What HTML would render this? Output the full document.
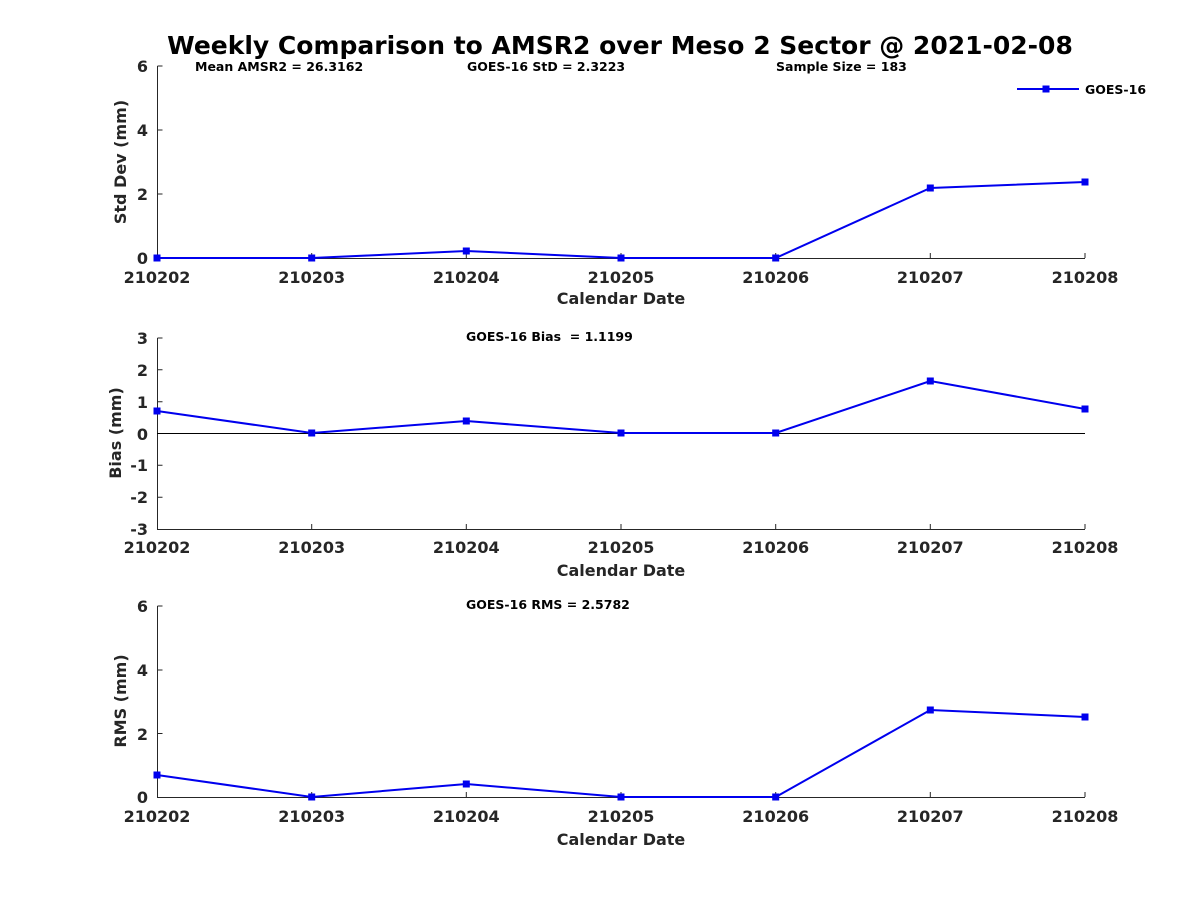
<!DOCTYPE html>
<html><head><meta charset="utf-8"><style>
html,body{margin:0;padding:0;background:#fff;}
svg{display:block;font-family:"DejaVu Sans","Liberation Sans",sans-serif;}
.t{font-size:16px;font-weight:bold;fill:#262626;}
.a{font-size:12.5px;font-weight:bold;fill:#000;}
.l{fill:none;stroke:#0000ee;stroke-width:2;}
.m{fill:#0000ee;}
.ax{stroke:#262626;stroke-width:1;fill:none;}
</style></head><body>
<svg width="1200" height="900" viewBox="0 0 1200 900" xmlns="http://www.w3.org/2000/svg">
<rect width="1200" height="900" fill="#fff"/>
<text x="620" y="54" text-anchor="middle" style="font-size:25px;font-weight:bold" fill="#000">Weekly Comparison to AMSR2 over Meso 2 Sector @ 2021-02-08</text>

<!-- Plot 1 -->
<g>
<path class="ax" d="M157.5 66V258.5H1085"/>
<path class="ax" d="M157.5 66h5M157.5 130h5M157.5 194h5M311.7 258v-5M466.3 258v-5M621 258v-5M775.7 258v-5M930.3 258v-5M1085 258v-5"/>
<g class="t" text-anchor="end"><text x="148" y="72">6</text><text x="148" y="136">4</text><text x="148" y="200">2</text><text x="148" y="264">0</text></g>
<g class="t" text-anchor="middle"><text x="157" y="283">210202</text><text x="311.7" y="283">210203</text><text x="466.3" y="283">210204</text><text x="621" y="283">210205</text><text x="775.7" y="283">210206</text><text x="930.3" y="283">210207</text><text x="1085" y="283">210208</text><text x="621" y="304">Calendar Date</text></g>
<text class="t" transform="translate(126,162) rotate(-90)" text-anchor="middle">Std Dev (mm)</text>
<polyline class="l" points="157,258 311.7,258 466.3,251 621,258 775.7,258 930.3,188 1085,182"/>
<g class="m"><rect x="153.5" y="254.5" width="7" height="7"/><rect x="308.2" y="254.5" width="7" height="7"/><rect x="462.8" y="247.5" width="7" height="7"/><rect x="617.5" y="254.5" width="7" height="7"/><rect x="772.2" y="254.5" width="7" height="7"/><rect x="926.8" y="184.5" width="7" height="7"/><rect x="1081.5" y="178.5" width="7" height="7"/></g>
<text class="a" x="195" y="71">Mean AMSR2 = 26.3162</text>
<text class="a" x="467" y="71">GOES-16 StD = 2.3223</text>
<text class="a" x="776" y="71">Sample Size = 183</text>
<line x1="1017" y1="89" x2="1079" y2="89" stroke="#0000ee" stroke-width="2"/>
<rect class="m" x="1042.5" y="85.5" width="7" height="7"/>
<text x="1085" y="94" style="font-size:12.5px;font-weight:bold" fill="#000">GOES-16</text>
</g>

<!-- Plot 2 -->
<g>
<path class="ax" d="M157.5 338V529.5H1085"/>
<path class="ax" d="M157.5 338h5M157.5 369.8h5M157.5 401.7h5M157.5 433.5h5M157.5 465.3h5M157.5 497.2h5M311.7 529v-5M466.3 529v-5M621 529v-5M775.7 529v-5M930.3 529v-5M1085 529v-5"/>
<line x1="157" y1="433.5" x2="1085" y2="433.5" stroke="#000" stroke-width="1"/>
<g class="t" text-anchor="end"><text x="148" y="344">3</text><text x="148" y="376">2</text><text x="148" y="408">1</text><text x="148" y="440">0</text><text x="148" y="471">-1</text><text x="148" y="503">-2</text><text x="148" y="535">-3</text></g>
<g class="t" text-anchor="middle"><text x="157" y="553">210202</text><text x="311.7" y="553">210203</text><text x="466.3" y="553">210204</text><text x="621" y="553">210205</text><text x="775.7" y="553">210206</text><text x="930.3" y="553">210207</text><text x="1085" y="553">210208</text><text x="621" y="576">Calendar Date</text></g>
<text class="t" transform="translate(121,433) rotate(-90)" text-anchor="middle">Bias (mm)</text>
<polyline class="l" points="157,411 311.7,433 466.3,421 621,433 775.7,433 930.3,381 1085,409"/>
<g class="m"><rect x="153.5" y="407.5" width="7" height="7"/><rect x="308.2" y="429.5" width="7" height="7"/><rect x="462.8" y="417.5" width="7" height="7"/><rect x="617.5" y="429.5" width="7" height="7"/><rect x="772.2" y="429.5" width="7" height="7"/><rect x="926.8" y="377.5" width="7" height="7"/><rect x="1081.5" y="405.5" width="7" height="7"/></g>
<text class="a" x="466" y="341" xml:space="preserve">GOES-16 Bias  = 1.1199</text>
</g>

<!-- Plot 3 -->
<g>
<path class="ax" d="M157.5 606V797.5H1085"/>
<path class="ax" d="M157.5 606h5M157.5 670h5M157.5 733.5h5M311.7 797v-5M466.3 797v-5M621 797v-5M775.7 797v-5M930.3 797v-5M1085 797v-5"/>
<g class="t" text-anchor="end"><text x="148" y="612">6</text><text x="148" y="676">4</text><text x="148" y="740">2</text><text x="148" y="803">0</text></g>
<g class="t" text-anchor="middle"><text x="157" y="822">210202</text><text x="311.7" y="822">210203</text><text x="466.3" y="822">210204</text><text x="621" y="822">210205</text><text x="775.7" y="822">210206</text><text x="930.3" y="822">210207</text><text x="1085" y="822">210208</text><text x="621" y="845">Calendar Date</text></g>
<text class="t" transform="translate(126,701) rotate(-90)" text-anchor="middle">RMS (mm)</text>
<polyline class="l" points="157,775 311.7,797 466.3,784 621,797 775.7,797 930.3,710 1085,717"/>
<g class="m"><rect x="153.5" y="771.5" width="7" height="7"/><rect x="308.2" y="793.5" width="7" height="7"/><rect x="462.8" y="780.5" width="7" height="7"/><rect x="617.5" y="793.5" width="7" height="7"/><rect x="772.2" y="793.5" width="7" height="7"/><rect x="926.8" y="706.5" width="7" height="7"/><rect x="1081.5" y="713.5" width="7" height="7"/></g>
<text class="a" x="466" y="609">GOES-16 RMS = 2.5782</text>
</g>
</svg>
</body></html>
